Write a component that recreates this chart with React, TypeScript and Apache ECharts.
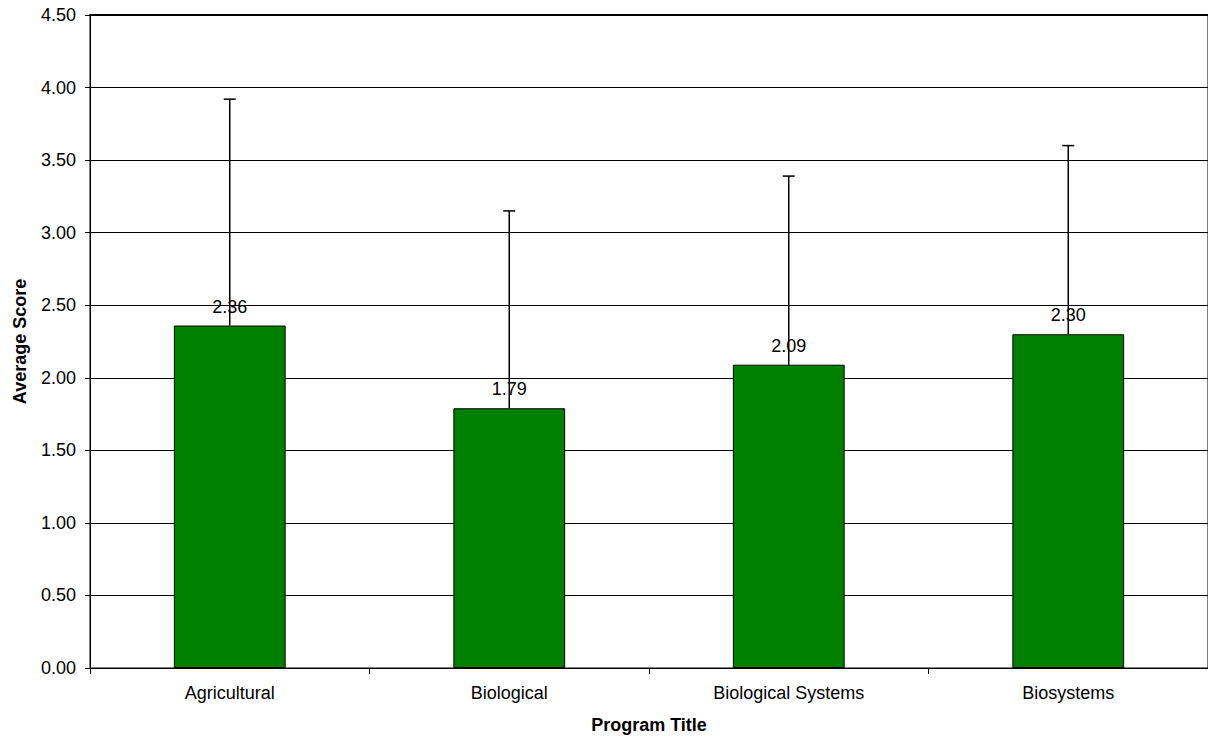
import React, { useEffect, useRef } from "react";
import * as echarts from "echarts";

const categories = ["Agricultural", "Biological", "Biological Systems", "Biosystems"];
const averageScores = [2.36, 1.79, 2.09, 2.3];
const stdDeviations = [1.56, 1.36, 1.3, 1.3];
const yTicks = { min: 0, max: 4.5, interval: 0.5 };

const FONT = "'Liberation Sans', Arial, sans-serif";

export default function App() {
  const ref = useRef<HTMLDivElement>(null);

  useEffect(() => {
    if (!ref.current) return;
    const chart = echarts.init(ref.current, null, { renderer: "svg" });
    const errData = averageScores.map((v, i) => [i, v, v + stdDeviations[i]]);

    chart.setOption({
      animation: false,
      backgroundColor: "#ffffff",
      textStyle: { fontFamily: FONT },
      grid: {
        left: 90,
        right: -2,
        top: 15,
        bottom: 75,
        show: true,
        borderColor: "#000",
        borderWidth: 1,
        backgroundColor: "transparent",
      },
      xAxis: [
        {
          type: "category",
          data: categories,
          boundaryGap: true,
          name: "Program Title",
          nameLocation: "middle",
          nameGap: 48,
          nameTextStyle: { fontFamily: FONT, fontSize: 18, fontWeight: "bold", color: "#000" },
          axisLine: { show: true, lineStyle: { color: "#000", width: 1 } },
          axisTick: { show: true, alignWithLabel: false, length: 6, lineStyle: { color: "#000" } },
          axisLabel: { fontFamily: FONT, fontSize: 18, color: "#000", margin: 16 },
          splitLine: { show: false },
        },
        {
          type: "category",
          data: categories,
          position: "top",
          axisLine: { show: true, lineStyle: { color: "#000", width: 2 } },
          axisTick: { show: false },
          axisLabel: { show: false },
          splitLine: { show: false },
        },
      ],
      yAxis: {
        type: "value",
        min: yTicks.min,
        max: yTicks.max,
        interval: yTicks.interval,
        name: "Average Score",
        nameLocation: "middle",
        nameGap: 61,
        nameTextStyle: { fontFamily: FONT, fontSize: 18, fontWeight: "bold", color: "#000" },
        axisLine: { show: true, lineStyle: { color: "#000", width: 1 } },
        axisTick: { show: true, length: 5, lineStyle: { color: "#000" } },
        axisLabel: {
          fontFamily: FONT,
          fontSize: 18,
          color: "#000",
          margin: 14,
          formatter: (v: number) => v.toFixed(2),
        },
        splitLine: { show: true, lineStyle: { color: "#000", width: 1 } },
      },
      series: [
        {
          type: "bar",
          data: averageScores,
          barWidth: "40%",
          itemStyle: { color: "#008000", borderColor: "#000", borderWidth: 1 },
          label: {
            show: true,
            position: "top",
            distance: 10,
            fontFamily: FONT,
            fontSize: 18,
            color: "#000",
            formatter: (p: any) => Number(p.value).toFixed(2),
          },
          z: 2,
        },
        {
          type: "custom",
          data: errData,
          z: 10,
          renderItem: (params: any, api: any) => {
            const x = api.value(0);
            const low = api.coord([x, api.value(1)]);
            const high = api.coord([x, api.value(2)]);
            const cap = 6;
            const style = { stroke: "#000", lineWidth: 1.5 };
            return {
              type: "group",
              children: [
                {
                  type: "line",
                  shape: { x1: low[0], y1: low[1], x2: high[0], y2: high[1] },
                  style,
                },
                {
                  type: "line",
                  shape: { x1: high[0] - cap, y1: high[1], x2: high[0] + cap, y2: high[1] },
                  style,
                },
              ],
            };
          },
        },
      ],
    });

    return () => chart.dispose();
  }, []);

  return (
    <div
      ref={ref}
      style={{ position: "absolute", left: 0, top: 0, width: 1208, height: 743 }}
    />
  );
}
